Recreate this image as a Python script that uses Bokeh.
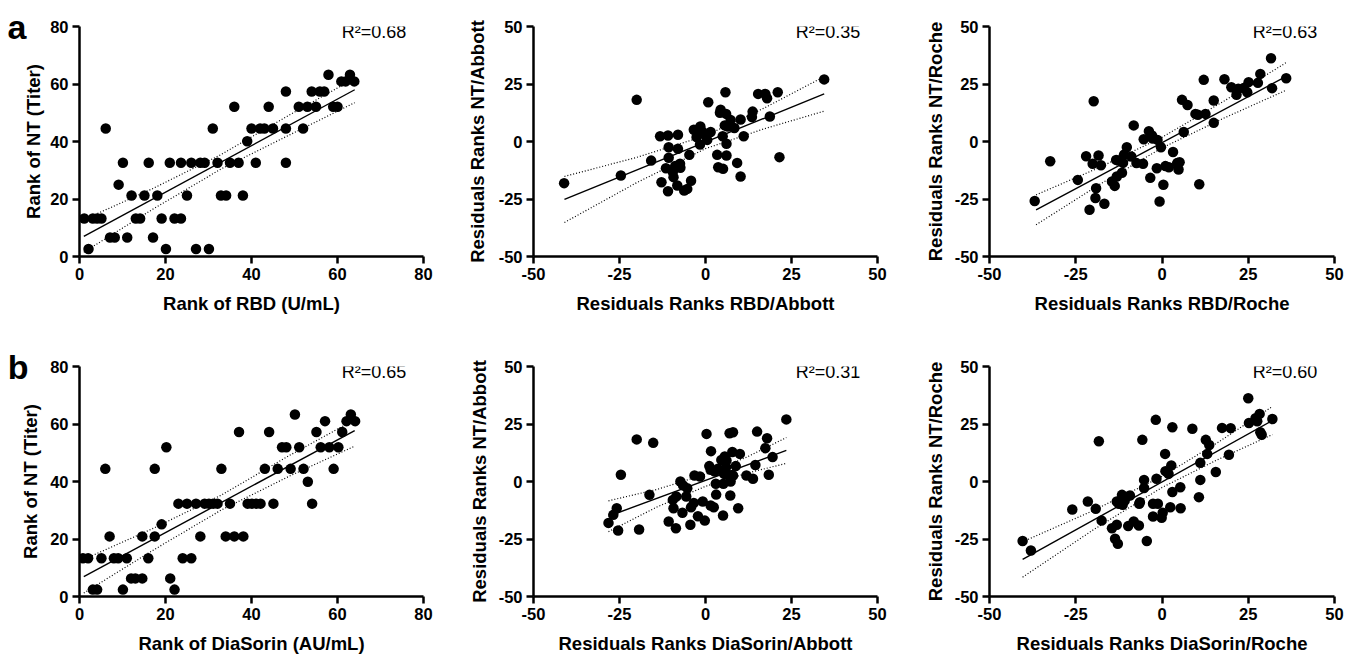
from bokeh.plotting import figure
from bokeh.layouts import row, column
from bokeh.models import Range1d, FixedTicker, LinearAxis
from bokeh.core.properties import value
from bokeh.embed import file_html
from bokeh.resources import INLINE

FONT = "Liberation Sans"

# ---------------- data ----------------
# Panel a1: Rank of RBD vs Rank of NT
a1_x = [1.1, 2.1, 3.1, 4.1, 5.1, 6.1, 7.1, 8.2, 9.1, 10.1, 11.1, 12.1, 13.1, 14.1, 15.1, 16.1,
        17.1, 18.1, 19.1, 20.1, 21.0, 22.1, 23.6, 23.6, 25.0, 26.0, 27.1, 28.1, 29.1, 30.1, 31.0,
        32.1, 32.9, 34.1, 35.0, 36.0, 37.0, 38.0, 39.0, 40.0, 41.0, 42.0, 43.0, 44.0, 45.0, 48.0,
        48.0, 48.0, 51.0, 52.0, 53.0, 54.0, 55.0, 55.9, 56.9, 57.9, 59.0, 60.0, 60.9, 61.9, 62.9, 63.9]
a1_y = [13.2, 2.6, 13.2, 13.2, 13.2, 44.5, 6.6, 6.6, 25.0, 32.6, 6.6, 21.2, 13.2, 13.2, 21.2, 32.6,
        6.6, 21.2, 13.2, 2.6, 32.6, 13.2, 13.2, 32.6, 21.2, 32.6, 2.6, 32.6, 32.6, 2.6, 44.5,
        32.6, 21.2, 21.2, 32.6, 52.1, 32.6, 21.2, 40.1, 44.5, 32.6, 44.5, 44.5, 52.1, 44.5, 57.4,
        44.5, 32.6, 52.1, 44.5, 52.1, 57.4, 52.1, 57.4, 57.4, 63.2, 52.1, 52.1, 60.9, 60.9, 63.2, 60.9]
a1_fit_x = [1.0, 64.0]
a1_fit_y = [7.0, 58.0]
a1_ci_x = [1, 17, 33, 49, 64]
a1_ci_hi = [12.8, 23.6, 35.5, 49.4, 62.0]
a1_ci_lo = [1.5, 16.4, 30.5, 42.4, 53.5]

# Panel a2: residuals RBD/Abbott
a2_x = [-41.1, -24.6, -20.0, -15.8, -13.2, -12.8, -11.5, -10.9, -10.7, -10.7, -10.9, -9.5, -9.3,
        -8.8, -8.2, -8.0, -8.0, -7.4, -7.3, -6.2, -5.3, -4.7, -4.2, -3.4, -2.6, -1.6, -1.5, -0.9,
        0.0, 0.5, 0.8, 1.5, 3.4, 3.7, 4.4, 4.2, 5.1, 5.0, 5.6, 5.8, 6.0, 6.1, 6.1, 6.5, 7.3, 8.4,
        9.2, 10.2, 10.2, 11.1, 13.5, 13.7, 15.3, 17.4, 17.9, 18.7, 21.0, 21.5, 34.5]
a2_y = [-18.1, -14.8, 18.1, -8.3, 2.3, -17.7, -11.6, 2.6, -2.5, -7.1, -21.6, -13.3, -15.5,
        -10.6, -19.1, 2.9, -3.2, -9.7, -11.4, -21.3, -20.6, -5.8, -17.1, 5.1, 1.9, -1.3, 6.5, 4.3,
        2.6, 0.7, 17.1, 4.1, -5.8, -11.2, 13.8, 12.5, -11.9, 2.3, 7.0, 21.4, 12.0, -1.0, -6.1, 6.5,
        9.4, 5.9, -9.3, 9.6, -15.2, 2.3, 10.6, 13.0, 20.7, 20.7, 18.8, 10.9, 21.4, -6.8, 27.0]
a2_fit_x = [-41.0, 34.5]
a2_fit_y = [-25.2, 20.7]
a2_ci_x = [-41, -20, 0, 17, 34.5]
a2_ci_hi = [-15.2, -6.9, 2.5, 14.5, 28.2]
a2_ci_lo = [-35.2, -17.9, -3.1, 5.5, 13.2]

# Panel a3: residuals RBD/Roche
a3_x = [-36.9, -32.4, -24.4, -22.0, -21.0, -20.1, -19.8, -19.1, -19.3, -18.4, -17.7, -16.7, -14.5,
        -13.7, -13.3, -13.1, -12.6, -11.6, -11.3, -11.0, -10.2, -8.9, -8.2, -7.4, -5.5, -5.3, -3.4,
        -3.8, -2.9, -2.7, -1.5, -1.3, -0.7, -0.3, 0.4, 1.0, 2.0, 3.2, 4.4, 4.8, 5.1, 5.8, 6.3, 7.4,
        9.7, 10.4, 10.8, 12.1, 12.6, 15.0, 15.0, 18.1, 20.1, 21.6, 22.1, 23.7, 24.7, 25.1, 27.8,
        28.5, 31.6, 31.9, 36.0]
a3_y = [-25.9, -8.6, -16.7, -6.4, -29.7, -9.7, 17.5, -20.3, -24.6, -6.1, -10.3, -27.1, -17.4,
        -19.3, -8.0, -15.2, -8.3, -13.6, -9.3, -5.7, -2.5, -6.5, 7.0, -9.4, -9.7, 1.0, -15.8,
        4.5, 2.6, 1.3, -11.6, 0.7, -26.1, -2.5, -18.8, -10.7, -11.2, -4.6, -9.4, -12.2, -9.0, 18.1,
        4.1, 15.9, 12.0, 11.6, -18.6, 26.8, 12.0, 17.8, 8.1, 27.1, 23.6, 20.3, 22.9, 23.3, 21.4,
        25.8, 25.5, 29.4, 36.2, 23.2, 27.5]
a3_fit_x = [-36.5, 36.0]
a3_fit_y = [-29.7, 28.3]
a3_ci_x = [-36.5, -18, 0, 18, 36]
a3_ci_hi = [-23.2, -11.2, 1.8, 17.6, 34.3]
a3_ci_lo = [-36.2, -18.6, -2.8, 10.2, 22.3]

# Panel b1: Rank of DiaSorin vs Rank of NT
b1_x = [0.8, 2.0, 3.1, 4.1, 5.1, 6.0, 7.0, 8.0, 9.0, 10.1, 11.0, 12.0, 13.0, 14.6, 14.6, 16.0,
        17.5, 17.5, 19.1, 20.2, 21.1, 22.1, 23.0, 24.0, 25.0, 26.0, 27.1, 28.1, 29.1, 30.1, 31.1,
        32.1, 33.0, 34.0, 35.0, 36.0, 37.1, 38.1, 39.1, 40.1, 41.1, 42.1, 43.1, 44.1, 45.1, 46.1,
        47.1, 48.1, 49.1, 50.1, 51.1, 52.1, 53.1, 54.1, 55.1, 56.1, 57.1, 58.1, 59.1, 60.2, 61.1,
        62.1, 63.1, 64.1]
b1_y = [13.3, 13.3, 2.4, 2.4, 13.3, 44.4, 20.9, 13.3, 13.3, 2.4, 13.3, 6.3, 6.3, 20.9, 6.3, 13.3,
        20.9, 44.4, 25.1, 51.9, 6.3, 2.4, 32.3, 13.3, 32.3, 13.3, 32.3, 20.9, 32.3, 32.3, 32.3,
        32.3, 44.4, 20.9, 32.3, 20.9, 57.2, 20.9, 32.3, 32.3, 32.3, 32.3, 44.4, 57.2, 32.3, 44.4,
        51.9, 51.9, 44.4, 63.3, 51.9, 44.4, 39.9, 32.3, 57.2, 51.9, 61.0, 51.9, 44.4, 51.9, 57.2,
        61.0, 63.3, 61.0]
b1_fit_x = [1.0, 64.0]
b1_fit_y = [6.9, 57.7]
b1_ci_x = [1, 17, 33, 49, 64]
b1_ci_hi = [12.9, 23.6, 35.3, 49.2, 61.5]
b1_ci_lo = [1.2, 16.0, 30.1, 42.0, 52.3]

# Panel b2: residuals DiaSorin/Abbott
b2_x = [-28.2, -26.8, -25.8, -25.4, -24.6, -20.0, -19.3, -16.3, -15.2, -10.7, -9.5, -9.3, -8.6,
        -8.5, -7.3, -6.7, -6.5, -5.6, -5.3, -4.4, -4.2, -3.4, -3.2, -2.2, -1.6, -0.8, -0.2, 0.3,
        1.1, 1.5, 1.5, 1.6, 2.4, 2.7, 3.0, 3.1, 3.6, 4.6, 5.1, 5.2, 5.4, 5.6, 6.0, 6.1, 6.5, 7.0,
        7.2, 7.3, 7.4, 7.8, 8.0, 8.0, 8.8, 9.5, 10.0, 11.9, 13.8, 14.5, 15.0, 17.4, 17.9, 18.4,
        19.5, 23.5]
b2_y = [-18.0, -14.5, -11.6, -21.3, 2.9, 18.3, -20.9, -5.8, 16.8, -17.4, -8.0, -11.6, -20.3,
        -6.5, 0.0, -13.6, -1.7, -6.5, -2.9, -18.8, -11.2, -9.3, 2.6, -15.1, 2.2, -8.7, -17.0, 20.7,
        6.7, 5.1, -10.4, 13.2, -11.2, 4.3, -1.0, -5.7, 5.5, 9.4, -14.8, -1.0, 3.3, 10.9, 6.2, 9.1,
        2.9, 21.0, -6.1, 0.0, 2.6, 12.8, 21.4, 2.6, 6.7, -11.6, 12.0, 2.6, 1.2, 7.2, 21.7, 14.5,
        18.8, 2.9, 10.6, 27.0]
b2_fit_x = [-28.2, 23.5]
b2_fit_y = [-15.1, 13.5]
b2_ci_x = [-28.2, -14, 0, 12, 23.5]
b2_ci_hi = [-8.4, -3.4, 3.1, 10.6, 19.1]
b2_ci_lo = [-21.8, -11.0, -2.1, 3.6, 7.9]

# Panel b3: residuals DiaSorin/Roche
b3_x = [-40.4, -38.0, -26.0, -21.5, -19.2, -18.3, -17.5, -14.5, -13.6, -13.1, -13.1, -12.8, -12.5,
        -11.6, -11.4, -10.8, -9.8, -9.3, -8.2, -6.7, -6.6, -6.4, -5.7, -5.2, -5.2, -4.4, -2.6,
        -2.6, -1.8, -1.6, -1.2, -0.1, 0.2, 0.9, 1.0, 1.9, 2.4, 2.7, 3.0, 3.0, 5.3, 5.4, 8.8, 10.7,
        11.1, 11.1, 12.7, 13.1, 13.7, 15.6, 17.4, 19.4, 19.9, 25.0, 25.2, 27.1, 27.6, 28.3, 28.5,
        28.9, 32.0]
b3_y = [-25.9, -30.0, -12.2, -8.7, -11.9, 17.5, -17.0, -20.3, -24.9, -18.8, -8.7, -27.1, -9.7,
        -5.8, -10.1, -8.3, -19.4, -6.1, -17.4, -19.1, -9.7, -9.0, 18.1, 0.7, -2.8, -25.9, -9.7,
        -15.2, 26.8, 1.2, -9.7, -15.8, -13.6, 12.0, 4.5, 3.3, -11.2, 7.0, 23.6, -4.6, -2.5, -11.6,
        22.9, -6.8, 8.1, 0.7, 18.1, 12.0, 15.9, 4.1, 23.3, 11.6, 23.2, 36.2, 25.4, 27.5, 26.2,
        29.4, 21.4, 20.3, 27.2]
b3_fit_x = [-40.4, 32.0]
b3_fit_y = [-33.9, 26.5]
b3_ci_x = [-40.4, -20, 0, 16, 32]
b3_ci_hi = [-26.2, -12.7, 2.2, 16.8, 32.6]
b3_ci_lo = [-41.6, -21.1, -2.6, 9.4, 20.4]

rank_ticks = [0, 20, 40, 60, 80]
resid_ticks = [-50, -25, 0, 25, 50]
tick_text = {-50: "-50", -25: "-25", 0: "0", 20: "20", 25: "25", 40: "40", 50: "50", 60: "60", 80: "80"}
r2_labels = ["R\u00b2=0.68", "R\u00b2=0.35", "R\u00b2=0.63", "R\u00b2=0.65", "R\u00b2=0.31", "R\u00b2=0.60"]
x_titles = ["Rank of RBD (U/mL)", "Residuals Ranks RBD/Abbott", "Residuals Ranks RBD/Roche",
            "Rank of DiaSorin (AU/mL)", "Residuals Ranks DiaSorin/Abbott", "Residuals Ranks DiaSorin/Roche"]
y_titles = ["Rank of NT (Titer)", "Residuals Ranks NT/Abbott", "Residuals Ranks NT/Roche",
            "Rank of NT (Titer)", "Residuals Ranks NT/Abbott", "Residuals Ranks NT/Roche"]
panel_letters = ["a", "b"]


def make_panel(xs, ys, fx, fy, cx, chi, clo, rng, ticks, xt, yt, r2,
               width, height, bl, br, bt, bb, ystand, xstand, letter=None, letter_standoff=0):
    p = figure(width=width, height=height, x_range=Range1d(*rng), y_range=Range1d(*rng),
               output_backend="svg", toolbar_location=None,
               min_border_left=bl, min_border_right=br, min_border_top=bt, min_border_bottom=bb)
    p.outline_line_color = None
    p.xgrid.visible = False
    p.ygrid.visible = False
    p.background_fill_color = "white"
    p.border_fill_color = "white"
    for ax in (p.xaxis[0], p.yaxis[0]):
        ax.ticker = FixedTicker(ticks=ticks)
        ax.major_label_overrides = {t: tick_text[t] for t in ticks}
        ax.axis_line_width = 2.5
        ax.axis_line_color = "black"
        ax.major_tick_line_width = 2.5
        ax.major_tick_line_color = "black"
        ax.major_tick_in = 0
        ax.major_tick_out = 7
        ax.minor_tick_line_color = None
        ax.major_label_text_font = FONT
        ax.major_label_text_font_size = "16.5px"
        ax.major_label_text_font_style = "bold"
        ax.major_label_text_color = "black"
        ax.major_label_standoff = 4
        ax.axis_label_text_font = FONT
        ax.axis_label_text_font_size = "18.5px"
        ax.axis_label_text_font_style = "bold"
        ax.axis_label_text_color = "black"
    p.xaxis.axis_label = xt
    p.yaxis.axis_label = yt
    p.yaxis.axis_label_standoff = ystand
    p.xaxis.axis_label_standoff = xstand

    p.line(cx, chi, line_color="black", line_width=1.2, line_dash="1 2")
    p.line(cx, clo, line_color="black", line_width=1.2, line_dash="1 2")
    p.line(fx, fy, line_color="black", line_width=1.4)
    p.scatter(xs, ys, size=10.5, color="black", line_width=0)

    span = rng[1] - rng[0]
    p.text(x=[rng[1] - 0.05 * span], y=[rng[1] - 0.025 * span], text=[r2],
           text_align="right", text_baseline="middle", text_font=value(FONT),
           text_font_size="18px", text_color="black")
    if letter is not None:
        # panel letter drawn as the only label of a bare extra axis on the left
        p.extra_y_ranges = {"letter": Range1d(0, 1)}
        lax = LinearAxis(y_range_name="letter", ticker=FixedTicker(ticks=[1]),
                         major_label_overrides={1: letter})
        lax.axis_line_color = None
        lax.major_tick_line_color = None
        lax.minor_tick_line_color = None
        lax.major_tick_in = 0
        lax.major_tick_out = 0
        lax.major_label_standoff = letter_standoff
        lax.major_label_text_font = FONT
        lax.major_label_text_font_size = "34px"
        lax.major_label_text_font_style = "bold"
        lax.major_label_text_color = "black"
        p.add_layout(lax, "left")
    return p


H1, H2 = 328, 329
W1, W2, W3 = 453, 455, 453
p1 = make_panel(a1_x, a1_y, a1_fit_x, a1_fit_y, a1_ci_x, a1_ci_hi, a1_ci_lo, (0, 80), rank_ticks,
                x_titles[0], y_titles[0], r2_labels[0], W1, H1, 79, 30, 26, 72, 3, 10,
                letter=panel_letters[0], letter_standoff=-6)
p2 = make_panel(a2_x, a2_y, a2_fit_x, a2_fit_y, a2_ci_x, a2_ci_hi, a2_ci_lo, (-50, 50), resid_ticks,
                x_titles[1], y_titles[1], r2_labels[1], W2, H1, 80, 31, 26, 72, 8, 10)
p3 = make_panel(a3_x, a3_y, a3_fit_x, a3_fit_y, a3_ci_x, a3_ci_hi, a3_ci_lo, (-50, 50), resid_ticks,
                x_titles[2], y_titles[2], r2_labels[2], W3, H1, 81, 27, 26, 72, 6, 10)
p4 = make_panel(b1_x, b1_y, b1_fit_x, b1_fit_y, b1_ci_x, b1_ci_hi, b1_ci_lo, (0, 80), rank_ticks,
                x_titles[3], y_titles[3], r2_labels[3], W1, H2, 79, 30, 38, 61, 6, 10,
                letter=panel_letters[1], letter_standoff=-11)
p5 = make_panel(b2_x, b2_y, b2_fit_x, b2_fit_y, b2_ci_x, b2_ci_hi, b2_ci_lo, (-50, 50), resid_ticks,
                x_titles[4], y_titles[4], r2_labels[4], W2, H2, 80, 31, 38, 61, 6, 10)
p6 = make_panel(b3_x, b3_y, b3_fit_x, b3_fit_y, b3_ci_x, b3_ci_hi, b3_ci_lo, (-50, 50), resid_ticks,
                x_titles[5], y_titles[5], r2_labels[5], W3, H2, 81, 27, 38, 61, 6, 10)

layout = column(row(p1, p2, p3, spacing=0), row(p4, p5, p6, spacing=0), spacing=0)
open("out.html", "w").write(file_html(layout, INLINE))
